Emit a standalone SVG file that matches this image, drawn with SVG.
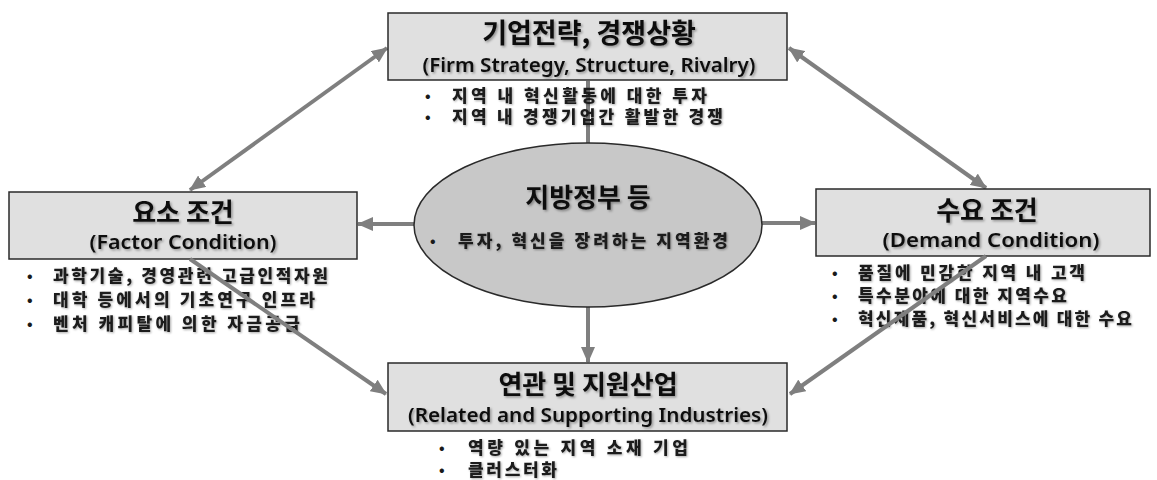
<svg xmlns="http://www.w3.org/2000/svg" width="1157" height="480" viewBox="0 0 1157 480">
<style>
.box{fill:#e0e0e0;stroke:#2a2a2a;stroke-width:1.5}
.ell{fill:#c8c8c8;stroke:#2a2a2a;stroke-width:1.5}
.conn{stroke:#7f7f7f;stroke-width:4;fill:none}
.t{font-family:"Noto Sans CJK KR","Noto Sans",sans-serif;fill:#111;text-anchor:middle;filter:url(#sh)}
.k{font-size:26px;font-weight:700}
.e{font-family:"Noto Sans","Open Sans","Noto Sans CJK KR",sans-serif;font-size:19px;font-weight:600}
.b{font-family:"Noto Sans CJK KR",sans-serif;font-size:17px;font-weight:900;fill:#1a1a1a;filter:url(#sh2)}
.dot{font-family:"Noto Sans CJK KR",sans-serif;font-size:14px;font-weight:900;fill:#1a1a1a}
</style>
<defs>
<filter id="sh" x="-10%" y="-30%" width="120%" height="160%">
<feDropShadow dx="1.5" dy="1.5" stdDeviation="1" flood-color="#000" flood-opacity="0.35"/>
</filter>
<filter id="sh2" x="-10%" y="-30%" width="120%" height="160%">
<feDropShadow dx="1" dy="1" stdDeviation="0.8" flood-color="#000" flood-opacity="0.35"/>
</filter>
<marker id="ah" markerUnits="userSpaceOnUse" markerWidth="16" markerHeight="14" refX="15" refY="7" orient="auto-start-reverse">
<path d="M0,0 L16,7 L0,14 Z" fill="#7f7f7f"/>
</marker>
</defs>

<g id="connectors">
<line class="conn" x1="588" y1="143" x2="588" y2="81"/>
<line class="conn" x1="190" y1="190" x2="387" y2="48" marker-start="url(#ah)" marker-end="url(#ah)"/>
<line class="conn" x1="789" y1="48" x2="986" y2="188" marker-start="url(#ah)" marker-end="url(#ah)"/>
<line class="conn" x1="414" y1="224" x2="358" y2="224" marker-end="url(#ah)"/>
<line class="conn" x1="762" y1="223" x2="815" y2="223" marker-end="url(#ah)"/>
<line class="conn" x1="588" y1="307" x2="588" y2="362" marker-end="url(#ah)"/>
</g>

<g id="node-top">
<rect class="box" x="388" y="13" width="399" height="67"/>
<text class="t k" x="589" y="43" style="font-size:27px">기업전략, 경쟁상황</text>
<text class="t e" x="589" y="72" textLength="333" lengthAdjust="spacingAndGlyphs">(Firm Strategy, Structure, Rivalry)</text>
<text class="dot" x="425" y="101">•</text>
<text class="b" x="452" y="102" textLength="255" lengthAdjust="spacing">지역 내 혁신활동에 대한 투자</text>
<text class="dot" x="425" y="122">•</text>
<text class="b" x="452" y="123" textLength="271" lengthAdjust="spacing">지역 내 경쟁기업간 활발한 경쟁</text>
</g>

<g id="node-left">
<rect class="box" x="9" y="192" width="348" height="67"/>
<text class="t k" x="183" y="222">요소 조건</text>
<text class="t e" x="183" y="249" textLength="187" lengthAdjust="spacingAndGlyphs">(Factor Condition)</text>
<text class="dot" x="27" y="281">•</text>
<text class="b" x="53" y="282" textLength="275" lengthAdjust="spacing">과학기술, 경영관련 고급인적자원</text>
<text class="dot" x="27" y="305">•</text>
<text class="b" x="53" y="306" textLength="262" lengthAdjust="spacing">대학 등에서의 기초연구 인프라</text>
<text class="dot" x="27" y="329">•</text>
<text class="b" x="53" y="330" textLength="247" lengthAdjust="spacing">벤처 캐피탈에 의한 자금공급</text>
</g>

<g id="node-right">
<rect class="box" x="816" y="189" width="334" height="67"/>
<text class="t k" x="987" y="220">수요 조건</text>
<text class="t e" x="991" y="247" textLength="217" lengthAdjust="spacingAndGlyphs">(Demand Condition)</text>
<text class="dot" x="832" y="278">•</text>
<text class="b" x="858" y="279" textLength="227" lengthAdjust="spacing">품질에 민감한 지역 내 고객</text>
<text class="dot" x="832" y="301">•</text>
<text class="b" x="858" y="302" textLength="209" lengthAdjust="spacing">특수분야에 대한 지역수요</text>
<text class="dot" x="832" y="324">•</text>
<text class="b" x="858" y="325" textLength="274" lengthAdjust="spacing">혁신제품, 혁신서비스에 대한 수요</text>
</g>

<g id="node-bottom">
<rect class="box" x="388" y="363" width="399" height="68"/>
<text class="t k" x="588" y="394">연관 및 지원산업</text>
<text class="t e" x="588" y="422" textLength="360" lengthAdjust="spacingAndGlyphs">(Related and Supporting Industries)</text>
<text class="dot" x="439" y="453">•</text>
<text class="b" x="468" y="454" textLength="220" lengthAdjust="spacing">역량 있는 지역 소재 기업</text>
<text class="dot" x="439" y="475">•</text>
<text class="b" x="468" y="476" textLength="89" lengthAdjust="spacing">클러스터화</text>
</g>

<g id="node-center">
<ellipse class="ell" cx="588" cy="225" rx="174" ry="82"/>
<text class="t k" x="588" y="207" style="font-size:26px">지방정부 등</text>
<text class="dot" x="430" y="246">•</text>
<text class="b" x="458" y="247" textLength="270" lengthAdjust="spacing">투자, 혁신을 장려하는 지역환경</text>
</g>

<g id="connectors-over">
<line class="conn" x1="190" y1="259" x2="386" y2="394" marker-end="url(#ah)"/>
<line class="conn" x1="986" y1="256" x2="790" y2="394" marker-end="url(#ah)"/>
</g>
</svg>
